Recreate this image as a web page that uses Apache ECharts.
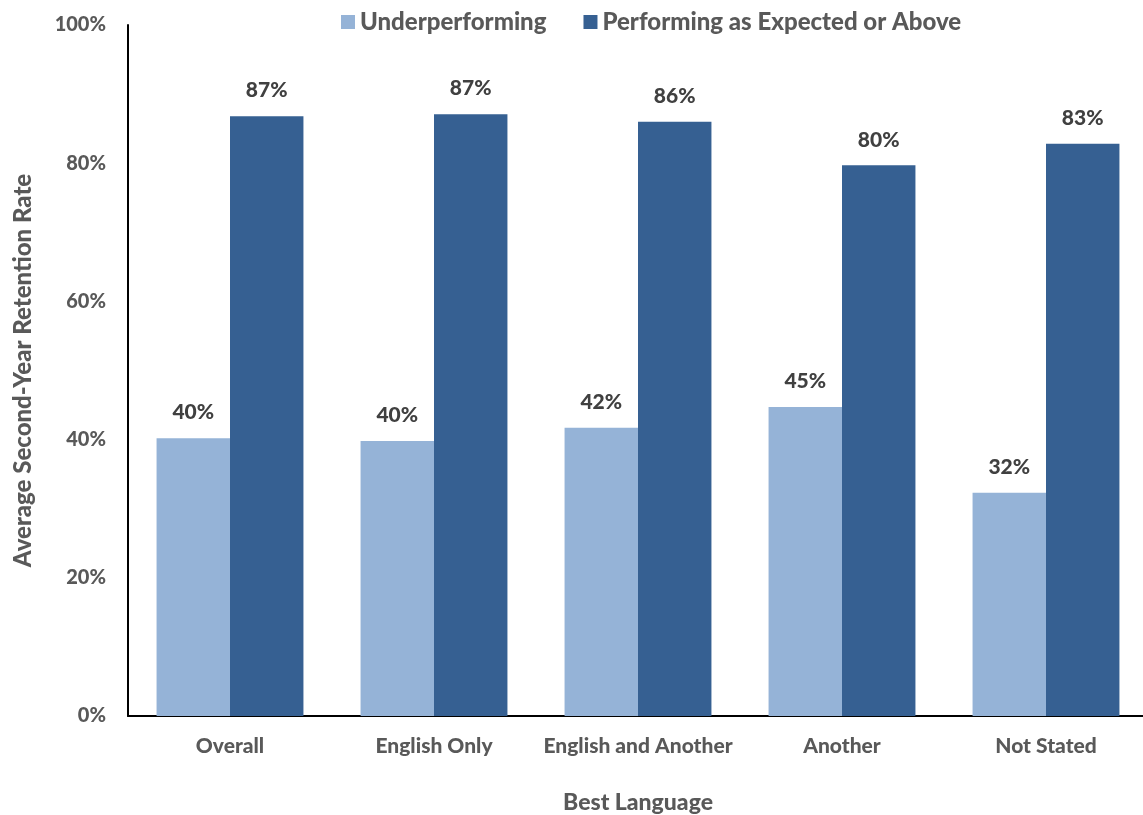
<!DOCTYPE html>
<html><head><meta charset="utf-8">
<script src="https://cdn.jsdelivr.net/npm/echarts@6/dist/echarts.min.js"></script>
<style>html,body{margin:0;padding:0;background:#fff}#c{width:1143px;height:815px}</style>
</head><body><div id="c"></div>
<script>
const categories = ['Overall', 'English Only', 'English and Another', 'Another', 'Not Stated'];
const underperforming = [40.2, 39.8, 41.7, 44.7, 32.3];
const performing = [86.8, 87.1, 86.0, 79.7, 82.8];
const seriesNames = ['Underperforming', 'Performing as Expected or Above'];
const yTicks = [0, 20, 40, 60, 80, 100];

const FONT = 'Lato';
const W = 900;
const chart = echarts.init(document.getElementById('c'));
const lbl = {show: true, position: 'top', distance: 15, formatter: p => Math.round(p.value) + '%',
  color: '#404040', fontFamily: FONT, fontWeight: W, fontSize: 21};
chart.setOption({
  animation: false,
  legend: {top: 5, left: 336, itemWidth: 14, itemHeight: 14, itemGap: 37, icon: 'rect',
    textStyle: {color: '#595959', fontFamily: FONT, fontWeight: W, fontSize: 24}},
  grid: {left: 128, right: -5, top: 25, bottom: 99, containLabel: false, outerBoundsMode: 'none'},
  xAxis: {type: 'category', data: categories,
    name: 'Best Language', nameLocation: 'middle', nameGap: 75,
    nameTextStyle: {color: '#595959', fontFamily: FONT, fontWeight: W, fontSize: 23},
    axisLine: {lineStyle: {color: '#000', width: 2}}, axisTick: {show: false},
    axisLabel: {interval: 0, color: '#595959', fontFamily: FONT, fontWeight: W, fontSize: 21, margin: 20}},
  yAxis: {type: 'value', min: 0, max: 100, interval: 20,
    name: 'Average Second-Year Retention Rate', nameLocation: 'middle', nameGap: 93,
    nameTextStyle: {color: '#595959', fontFamily: FONT, fontWeight: W, fontSize: 24},
    axisLine: {show: true, lineStyle: {color: '#000', width: 2}}, axisTick: {show: false},
    splitLine: {show: false},
    axisLabel: {color: '#595959', fontFamily: FONT, fontWeight: W, fontSize: 20, margin: 22,
      formatter: v => yTicks.includes(v) ? v + '%' : ''}},
  series: [
    {name: seriesNames[0], type: 'bar', data: underperforming, barGap: '0%', barCategoryGap: '28%',
     itemStyle: {color: '#95B3D7'}, label: lbl},
    {name: seriesNames[1], type: 'bar', data: performing, barGap: '0%', barCategoryGap: '28%',
     itemStyle: {color: '#366092'}, label: lbl}
  ]
});
</script></body></html>
